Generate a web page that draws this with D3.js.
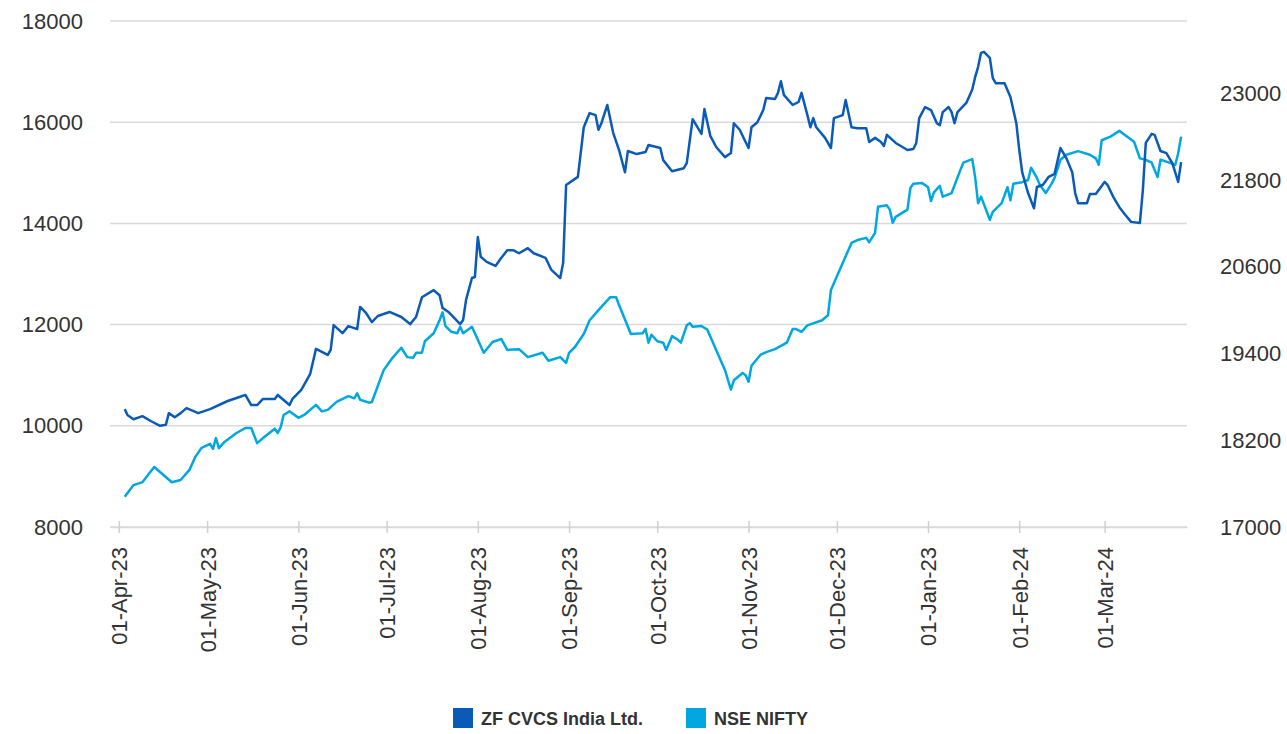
<!DOCTYPE html>
<html>
<head>
<meta charset="utf-8">
<script src="https://cdn.jsdelivr.net/npm/d3@7"></script>
<style>
  body { margin: 0; background: #fff; }
  text { font-family: "Liberation Sans", Arial, sans-serif; fill: #333; }
</style>
</head>
<body>
<svg width="1287" height="734"></svg>
<script>
// ZF CVCS India Ltd. share price (left axis)
var zfDates = ["03-Apr-23","04-Apr-23","06-Apr-23","09-Apr-23","12-Apr-23","15-Apr-23","17-Apr-23","18-Apr-23","20-Apr-23","22-Apr-23","24-Apr-23","28-Apr-23",
  "02-May-23","08-May-23","12-May-23","14-May-23","16-May-23","18-May-23","20-May-23","24-May-23","25-May-23","29-May-23","30-May-23",
  "02-Jun-23","05-Jun-23","07-Jun-23","11-Jun-23","12-Jun-23","13-Jun-23","16-Jun-23","18-Jun-23","21-Jun-23","22-Jun-23","24-Jun-23","26-Jun-23","28-Jun-23",
  "02-Jul-23","06-Jul-23","09-Jul-23","11-Jul-23","13-Jul-23","17-Jul-23","19-Jul-23","20-Jul-23","22-Jul-23","26-Jul-23","27-Jul-23","28-Jul-23","30-Jul-23","31-Jul-23",
  "01-Aug-23","02-Aug-23","04-Aug-23","07-Aug-23","09-Aug-23","11-Aug-23","13-Aug-23","15-Aug-23","18-Aug-23","20-Aug-23","24-Aug-23","26-Aug-23","29-Aug-23","30-Aug-23","31-Aug-23",
  "04-Sep-23","06-Sep-23","08-Sep-23","10-Sep-23","11-Sep-23","12-Sep-23","14-Sep-23","16-Sep-23","18-Sep-23","20-Sep-23","21-Sep-23","24-Sep-23","27-Sep-23","28-Sep-23",
  "02-Oct-23","03-Oct-23","06-Oct-23","10-Oct-23","11-Oct-23","13-Oct-23","16-Oct-23","17-Oct-23","19-Oct-23","21-Oct-23","24-Oct-23","26-Oct-23","27-Oct-23","29-Oct-23","31-Oct-23",
  "01-Nov-23","02-Nov-23","04-Nov-23","06-Nov-23","07-Nov-23","10-Nov-23","11-Nov-23","12-Nov-23","13-Nov-23","16-Nov-23","18-Nov-23","19-Nov-23","21-Nov-23","22-Nov-23","23-Nov-23","24-Nov-23","27-Nov-23","29-Nov-23","30-Nov-23",
  "03-Dec-23","04-Dec-23","06-Dec-23","08-Dec-23","11-Dec-23","12-Dec-23","14-Dec-23","16-Dec-23","17-Dec-23","18-Dec-23","21-Dec-23","25-Dec-23","27-Dec-23","28-Dec-23","29-Dec-23","31-Dec-23",
  "02-Jan-24","04-Jan-24","05-Jan-24","06-Jan-24","08-Jan-24","09-Jan-24","10-Jan-24","11-Jan-24","14-Jan-24","16-Jan-24","17-Jan-24","18-Jan-24","19-Jan-24","20-Jan-24","22-Jan-24","23-Jan-24","24-Jan-24","27-Jan-24","29-Jan-24","31-Jan-24",
  "01-Feb-24","02-Feb-24","04-Feb-24","06-Feb-24","07-Feb-24","09-Feb-24","11-Feb-24","13-Feb-24","15-Feb-24","17-Feb-24","19-Feb-24","20-Feb-24","21-Feb-24","24-Feb-24","25-Feb-24","27-Feb-24",
  "01-Mar-24","02-Mar-24","04-Mar-24","06-Mar-24","08-Mar-24","10-Mar-24","13-Mar-24","14-Mar-24","15-Mar-24","17-Mar-24","18-Mar-24","20-Mar-24","22-Mar-24","24-Mar-24","25-Mar-24","26-Mar-24","27-Mar-24"];
var zfValues = [10330,10210,10130,10190,10090,10000,10020,10250,10170,10250,10350,10250,
  10330,10490,10570,10610,10410,10410,10530,10530,10610,10410,10530,
  10710,11020,11520,11400,11500,11990,11830,11970,11910,12350,12230,12050,12170,
  12250,12150,12010,12150,12540,12680,12580,12330,12250,12010,12090,12490,12920,12940,
  13730,13340,13240,13160,13320,13470,13470,13410,13510,13410,13320,13080,12920,13220,14760,
  14920,15900,16180,16140,15850,15980,16340,15790,15450,15010,15430,15370,15410,15550,
  15490,15250,15030,15090,15190,16060,15770,16260,15730,15510,15310,15390,15980,15850,15610,
  15490,15900,16000,16240,16480,16460,16580,16810,16540,16340,16400,16580,16140,15900,16080,15900,15690,15490,16080,
  16140,16440,15900,15880,15880,15610,15690,15610,15530,15750,15590,15450,15470,15590,16080,16300,
  16240,15980,15940,16200,16300,16200,15980,16200,16380,16640,16890,17090,17370,17390,17270,16870,16770,16770,16500,15980,
  15450,15010,14600,14300,14720,14760,14920,14980,15490,15290,15010,14600,14400,14400,14580,14580,
  14820,14760,14520,14320,14170,14030,14010,14660,15590,15770,15750,15430,15390,15190,15010,14820,15210];

// NSE NIFTY (right axis)
var niftyDates = ["03-Apr-23","06-Apr-23","09-Apr-23","13-Apr-23","15-Apr-23","19-Apr-23","22-Apr-23","25-Apr-23","27-Apr-23","29-Apr-23",
  "02-May-23","03-May-23","04-May-23","05-May-23","07-May-23","11-May-23","14-May-23","16-May-23","18-May-23","20-May-23","24-May-23","25-May-23","26-May-23","27-May-23","29-May-23",
  "01-Jun-23","03-Jun-23","07-Jun-23","09-Jun-23","11-Jun-23","14-Jun-23","18-Jun-23","20-Jun-23","21-Jun-23","22-Jun-23","25-Jun-23","26-Jun-23","30-Jun-23",
  "03-Jul-23","06-Jul-23","08-Jul-23","10-Jul-23","11-Jul-23","13-Jul-23","14-Jul-23","17-Jul-23","19-Jul-23","20-Jul-23","21-Jul-23","23-Jul-23","25-Jul-23","26-Jul-23","27-Jul-23","30-Jul-23",
  "03-Aug-23","06-Aug-23","09-Aug-23","11-Aug-23","15-Aug-23","18-Aug-23","23-Aug-23","25-Aug-23","29-Aug-23","31-Aug-23",
  "01-Sep-23","03-Sep-23","06-Sep-23","08-Sep-23","11-Sep-23","15-Sep-23","17-Sep-23","18-Sep-23","21-Sep-23","22-Sep-23","26-Sep-23","27-Sep-23","28-Sep-23","29-Sep-23",
  "01-Oct-23","03-Oct-23","04-Oct-23","06-Oct-23","08-Oct-23","09-Oct-23","11-Oct-23","12-Oct-23","13-Oct-23","16-Oct-23","18-Oct-23","21-Oct-23","24-Oct-23","26-Oct-23","27-Oct-23","30-Oct-23","31-Oct-23",
  "01-Nov-23","02-Nov-23","05-Nov-23","07-Nov-23","10-Nov-23","14-Nov-23","16-Nov-23","17-Nov-23","19-Nov-23","21-Nov-23","26-Nov-23","28-Nov-23","29-Nov-23",
  "02-Dec-23","06-Dec-23","08-Dec-23","11-Dec-23","12-Dec-23","14-Dec-23","15-Dec-23","18-Dec-23","19-Dec-23","20-Dec-23","21-Dec-23","25-Dec-23","26-Dec-23","27-Dec-23","30-Dec-23",
  "01-Jan-24","02-Jan-24","03-Jan-24","05-Jan-24","06-Jan-24","09-Jan-24","12-Jan-24","13-Jan-24","16-Jan-24","17-Jan-24","18-Jan-24","19-Jan-24","22-Jan-24","23-Jan-24","26-Jan-24","28-Jan-24","29-Jan-24","30-Jan-24",
  "02-Feb-24","04-Feb-24","05-Feb-24","07-Feb-24","08-Feb-24","10-Feb-24","12-Feb-24","13-Feb-24","15-Feb-24","17-Feb-24","21-Feb-24","25-Feb-24","27-Feb-24","28-Feb-24","29-Feb-24",
  "03-Mar-24","06-Mar-24","08-Mar-24","11-Mar-24","13-Mar-24","15-Mar-24","17-Mar-24","19-Mar-24","20-Mar-24","23-Mar-24","25-Mar-24","26-Mar-24","27-Mar-24"];
var niftyValues = [17420,17580,17620,17830,17760,17620,17650,17790,17970,18090,
  18150,18080,18230,18090,18180,18300,18370,18370,18160,18230,18360,18300,18380,18550,18600,
  18510,18550,18690,18600,18620,18730,18810,18780,18850,18760,18720,18730,19170,
  19340,19480,19350,19340,19410,19410,19570,19680,19860,19970,19780,19700,19680,19770,19680,19770,
  19410,19560,19600,19450,19460,19350,19410,19300,19350,19270,
  19410,19490,19670,19860,20000,20180,20180,20070,19770,19670,19680,19740,19550,19660,
  19570,19550,19450,19640,19590,19550,19790,19820,19770,19780,19730,19450,19170,18900,19030,19130,19100,
  19010,19230,19380,19420,19460,19550,19740,19740,19700,19790,19860,19930,20280,
  20560,20930,20970,21000,20940,21070,21430,21450,21390,21210,21290,21390,21690,21750,21760,
  21700,21510,21630,21720,21570,21620,21940,22040,22090,21840,21480,21570,21250,21360,21480,21700,21520,21750,
  21770,21800,21970,21830,21730,21620,21750,21830,22080,22150,22200,22150,22100,22010,22350,
  22400,22480,22420,22330,22100,22080,22040,21840,22080,22040,22010,22170,22400];

// axis ticks
var leftTicks = [8000, 10000, 12000, 14000, 16000, 18000];
var rightTicks = [17000, 18200, 19400, 20600, 21800, 23000];
var monthLabels = ["01-Apr-23","01-May-23","01-Jun-23","01-Jul-23","01-Aug-23","01-Sep-23",
  "01-Oct-23","01-Nov-23","01-Dec-23","01-Jan-23","01-Feb-24","01-Mar-24"];

var seriesNames = ["ZF CVCS India Ltd.", "NSE NIFTY"];
var colors = ["#0a5bb8", "#00a7e1"];

var svg = d3.select("svg"),
    margin = {top: 21, right: 100, bottom: 207, left: 110},
    width = +svg.attr("width") - margin.left - margin.right,
    height = +svg.attr("height") - margin.top - margin.bottom;

var parse = d3.timeParse("%d-%b-%y");

var g = svg.append("g").attr("transform", "translate(" + margin.left + "," + margin.top + ")");

var x = d3.scaleTime()
    .domain([new Date(2023, 2, 29), new Date(2024, 2, 29)])
    .range([0, width]);
var yLeft = d3.scaleLinear().domain([8000, 18000]).range([height, 0]);
var yRight = d3.scaleLinear().domain([17000, 24000]).range([height, 0]);

// gridlines
g.append("g").selectAll("line")
  .data(leftTicks)
  .enter().append("line")
    .attr("x1", 0).attr("x2", width)
    .attr("y1", function(d) { return yLeft(d); })
    .attr("y2", function(d) { return yLeft(d); })
    .attr("stroke", "#dadada")
    .attr("stroke-width", 1.5);

// left axis
var leftAxis = g.append("g")
    .call(d3.axisLeft(yLeft).tickValues(leftTicks).tickSize(0).tickPadding(27).tickFormat(d3.format("d")));
leftAxis.select(".domain").remove();
leftAxis.selectAll("text").style("font-size", "22px").attr("fill", "#333");

// right axis
var rightAxis = g.append("g")
    .attr("transform", "translate(" + width + ",0)")
    .call(d3.axisRight(yRight).tickValues(rightTicks).tickSize(0).tickPadding(33).tickFormat(d3.format("d")));
rightAxis.select(".domain").remove();
rightAxis.selectAll("text").style("font-size", "22px").attr("fill", "#333");

// x axis
var monthTicks = d3.timeMonth.range(new Date(2023, 3, 1), new Date(2024, 2, 2));
var xAxis = g.append("g")
    .attr("transform", "translate(0," + height + ")")
    .call(d3.axisBottom(x).tickValues(monthTicks).tickSize(6).tickSizeOuter(0)
      .tickFormat(function(d, i) { return monthLabels[i]; }));
xAxis.select(".domain").attr("stroke", "#dadada").attr("stroke-width", 1.5);
xAxis.selectAll(".tick line").attr("stroke", "#d0d0d0").attr("stroke-width", 1.5).attr("y1", -6);
xAxis.selectAll("text")
    .style("font-size", "22px")
    .attr("fill", "#333")
    .attr("text-anchor", "end")
    .attr("transform", "rotate(-90)")
    .attr("x", -20)
    .attr("y", 0)
    .attr("dy", "0.36em");

// lines
var zfData = zfDates.map(function(d, i) { return {date: parse(d), value: zfValues[i]}; });
var niftyData = niftyDates.map(function(d, i) { return {date: parse(d), value: niftyValues[i]}; });

var lineLeft = d3.line()
    .x(function(d) { return x(d.date); })
    .y(function(d) { return yLeft(d.value); });
var lineRight = d3.line()
    .x(function(d) { return x(d.date); })
    .y(function(d) { return yRight(d.value); });

g.append("path")
    .datum(niftyData)
    .attr("fill", "none")
    .attr("stroke", colors[1])
    .attr("stroke-width", 2.5)
    .attr("stroke-linejoin", "round")
    .attr("d", lineRight);

g.append("path")
    .datum(zfData)
    .attr("fill", "none")
    .attr("stroke", colors[0])
    .attr("stroke-width", 2.5)
    .attr("stroke-linejoin", "round")
    .attr("d", lineLeft);

// legend
var legendX = [453, 686];
var legend = svg.append("g").selectAll("g")
  .data(seriesNames)
  .enter().append("g")
    .attr("transform", function(d, i) { return "translate(" + legendX[i] + ",708)"; });
legend.append("rect")
    .attr("width", 20).attr("height", 20)
    .attr("fill", function(d, i) { return colors[i]; });
legend.append("text")
    .attr("x", 28).attr("y", 17)
    .style("font-size", "18px")
    .style("font-weight", "bold")
    .attr("fill", "#333")
    .text(function(d) { return d; });
</script>
</body>
</html>
